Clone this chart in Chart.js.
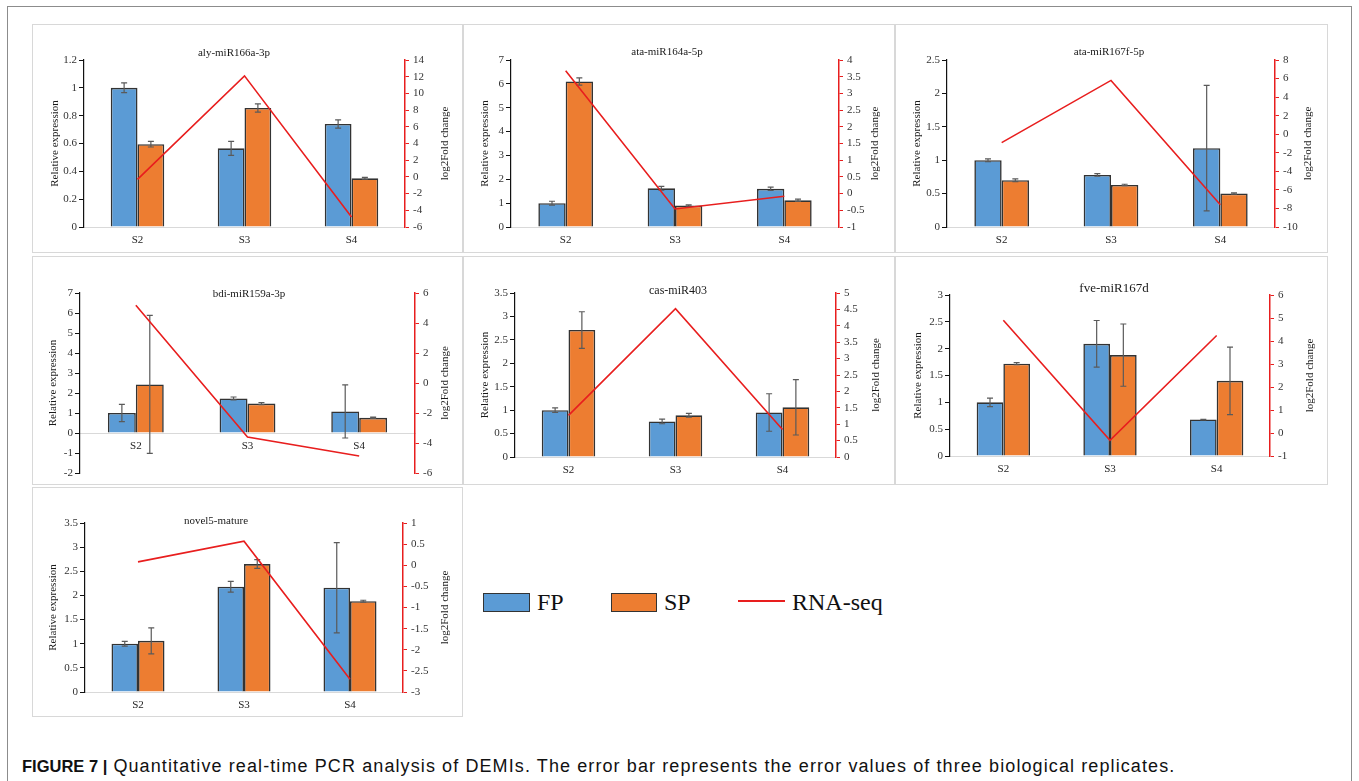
<!DOCTYPE html>
<html>
<head>
<meta charset="utf-8">
<title>Figure 7 - qRT-PCR of DEMIs</title>
<script src="https://cdn.jsdelivr.net/npm/chart.js@4.4.0/dist/chart.umd.min.js"></script>
<style>
  body { margin: 0; background: #fff; width: 1359px; height: 781px; position: relative; overflow: hidden; font-family: "Liberation Serif", serif; }
  #frame { position: absolute; left: 7px; top: 6px; width: 1343px; height: 800px; border: 1px solid #8c8c8c; }
  .panel { position: absolute; border: 1px solid #d8d8d8; box-sizing: border-box; background: #fff; }
  .panel canvas { position: absolute; left: 0; top: 0; }
  .legend { position: absolute; font-family: "Liberation Serif", serif; font-size: 24px; color: #111; }
  .swatch { position: absolute; box-sizing: border-box; border: 1.5px solid #333; }
  #caption { position: absolute; left: 22px; top: 756px; font-family: "Liberation Sans", Arial, sans-serif; font-size: 18px; letter-spacing: 1.1px; color: #111; white-space: nowrap; }
  #caption b { font-weight: bold; font-size: 16.5px; letter-spacing: 0; }
</style>
</head>
<body>
<div id="frame"></div>
<div id="panels"></div>

<div class="swatch" style="left:483px;top:593px;width:47px;height:19px;background:#5b9bd5"></div>
<div class="legend" style="left:537px;top:589px">FP</div>
<div class="swatch" style="left:611px;top:593px;width:46px;height:19px;background:#ed7d31"></div>
<div class="legend" style="left:664px;top:589px">SP</div>
<div style="position:absolute;left:738px;top:600px;width:47px;height:2px;background:#e81e1e"></div>
<div class="legend" style="left:792px;top:589px">RNA-seq</div>

<div id="caption"><b>FIGURE 7 |</b> Quantitative real-time PCR analysis of DEMIs. The error bar represents the error values of three biological replicates.</div>

<script>
// données
const stages = ['S2', 'S3', 'S4'];
const mirnas = ['aly-miR166a-3p', 'ata-miR164a-5p', 'ata-miR167f-5p', 'bdi-miR159a-3p', 'cas-miR403', 'fve-miR167d', 'novel5-mature'];

const fpMeans = [
    [1.00, 0.565, 0.74],
    [1.00, 1.62, 1.60],
    [1.00, 0.78, 1.18],
    [1.00, 1.73, 1.08],
    [1.00, 0.76, 0.95],
    [1.00, 2.09, 0.68],
    [1.00, 2.18, 2.16]
];
const fpErrors = [
    [0.035, 0.05, 0.03],
    [0.08, 0.08, 0.07],
    [0.02, 0.02, 0.94],
    [0.43, 0.07, 1.33],
    [0.05, 0.05, 0.40],
    [0.08, 0.435, 0.005],
    [0.05, 0.11, 0.935]
];
const spMeans = [
    [0.595, 0.855, 0.35],
    [6.10, 0.90, 1.12],
    [0.70, 0.63, 0.50],
    [2.43, 1.47, 0.76],
    [2.71, 0.89, 1.06],
    [1.72, 1.88, 1.40],
    [1.06, 2.65, 1.88]
];
const spErrors = [
    [0.02, 0.03, 0.007],
    [0.15, 0.03, 0.05],
    [0.02, 0.01, 0.01],
    [3.45, 0.05, 0.03],
    [0.39, 0.04, 0.59],
    [0.02, 0.58, 0.63],
    [0.27, 0.09, 0.02]
];
const rnaSeqLog2FC = [
    [-0.3, 12.1, -4.8],
    [3.68, -0.46, -0.08],
    [-0.9, 5.8, -7.6],
    [5.18, -3.6, -4.87],
    [1.27, 4.52, 0.84],
    [4.9, -0.32, 4.24],
    [0.08, 0.57, -2.7]
];
// [min, max, pas] des axes
const leftAxisRange = [[0, 1.2, 0.2], [0, 7, 1], [0, 2.5, 0.5], [-2, 7, 1], [0, 3.5, 0.5], [0, 3, 0.5], [0, 3.5, 0.5]];
const rightAxisRange = [[-6, 14, 2], [-1, 4, 0.5], [-10, 8, 2], [-6, 6, 2], [0, 5, 0.5], [-1, 6, 1], [-3, 1, 0.5]];

// mise en page des panneaux : boîte, zone de tracé, titres
const panelLayout = [
    { box: [32, 24, 431, 229],  area: [52, 36, 373, 203], title: [201, 28, 11], offL: 29, offR: 40 },
    { box: [463, 24, 432, 229], area: [48, 36, 376, 203], title: [203, 27, 11], offL: 26, offR: 36 },
    { box: [895, 24, 433, 229], area: [52, 36, 380, 203], title: [213, 27, 11], offL: 30, offR: 33 },
    { box: [32, 256, 431, 229], area: [48, 37, 383, 217], title: [216, 37, 11], offL: 27, offR: 30 },
    { box: [463, 256, 432, 229], area: [52, 37, 373, 201], title: [214, 34, 12], offL: 30, offR: 40 },
    { box: [895, 256, 433, 229], area: [55, 39, 375, 200], title: [218, 32, 13], offL: 32, offR: 40 },
    { box: [32, 487, 431, 230], area: [53, 36, 371, 205], title: [183, 33, 11], offL: 32, offR: 42 }
];

const BLUE = '#5b9bd5';
const ORANGE = '#ed7d31';
const RED = '#e81e1e';
const FONT = '"Liberation Serif", "Times New Roman", serif';

const fmt = v => String(Number(v.toFixed(2)));

// barres d'erreur + titres dessinés à la main
function makeDecor(i) {
    const L = panelLayout[i];
    const errs = [fpErrors[i], spErrors[i], null];
    return {
        id: 'decor' + i,
        afterDatasetDraw(chart, args) {
            const e = errs[args.index];
            if (!e) return;
            const ctx = chart.ctx;
            const y = chart.scales.y;
            const data = chart.data.datasets[args.index].data;
            ctx.save();
            ctx.strokeStyle = '#5a5a5a';
            ctx.lineWidth = 1.2;
            args.meta.data.forEach((bar, k) => {
                const top = y.getPixelForValue(data[k] + e[k]);
                const bot = y.getPixelForValue(data[k] - e[k]);
                ctx.beginPath();
                ctx.moveTo(bar.x, top); ctx.lineTo(bar.x, bot);
                ctx.moveTo(bar.x - 3, top); ctx.lineTo(bar.x + 3, top);
                ctx.moveTo(bar.x - 3, bot); ctx.lineTo(bar.x + 3, bot);
                ctx.stroke();
            });
            ctx.restore();
        },
        afterDraw(chart) {
            const ctx = chart.ctx;
            const a = chart.chartArea;
            const midY = (a.top + a.bottom) / 2;
            ctx.save();
            ctx.fillStyle = '#1a1a1a';
            ctx.textAlign = 'center';
            ctx.textBaseline = 'middle';
            ctx.font = L.title[2] + 'px ' + FONT;
            ctx.fillText(mirnas[i], L.title[0], L.title[1]);

            ctx.font = '11px ' + FONT;
            ctx.translate(a.left - L.offL, midY);
            ctx.rotate(-Math.PI / 2);
            ctx.fillText('Relative expression', 0, 0);
            ctx.restore();

            ctx.save();
            ctx.fillStyle = '#1a1a1a';
            ctx.textAlign = 'center';
            ctx.textBaseline = 'middle';
            ctx.font = '11px ' + FONT;
            ctx.translate(a.right + L.offR, midY);
            ctx.rotate(-Math.PI / 2);
            ctx.fillText('log2Fold change', 0, 0);
            ctx.restore();
        }
    };
}

function buildPanel(i) {
    const L = panelLayout[i];
    const div = document.createElement('div');
    div.className = 'panel';
    div.style.left = L.box[0] + 'px';
    div.style.top = L.box[1] + 'px';
    div.style.width = L.box[2] + 'px';
    div.style.height = L.box[3] + 'px';
    const cw = L.box[2] - 2, ch = L.box[3] - 2;
    const canvas = document.createElement('canvas');
    canvas.width = cw; canvas.height = ch;
    canvas.style.width = cw + 'px'; canvas.style.height = ch + 'px';
    div.appendChild(canvas);
    document.getElementById('panels').appendChild(div);

    const [lmin, lmax, lstep] = leftAxisRange[i];
    const [rmin, rmax, rstep] = rightAxisRange[i];
    const zeroAxis = lmin < 0;
    const areaL = L.area[0] - 1, areaT = L.area[1] - 1, areaR = L.area[2] - 1, areaB = L.area[3] - 1;

    new Chart(canvas.getContext('2d'), {
        type: 'bar',
        data: {
            labels: stages,
            datasets: [
                { label: 'FP', data: fpMeans[i], backgroundColor: BLUE, borderColor: '#333', borderWidth: 1.6, order: 1 },
                { label: 'SP', data: spMeans[i], backgroundColor: ORANGE, borderColor: '#333', borderWidth: 1.6, order: 1 },
                { label: 'RNA-seq', type: 'line', data: rnaSeqLog2FC[i], yAxisID: 'y1', borderColor: RED, borderWidth: 1.6,
                  pointRadius: 0, tension: 0, fill: false, order: 0 }
            ]
        },
        options: {
            responsive: false,
            animation: false,
            events: [],
            categoryPercentage: 0.5,
            barPercentage: 1.0,
            layout: { padding: { top: areaT, left: 0, right: 0, bottom: zeroAxis ? ch - areaB : 0 } },
            plugins: { legend: { display: false }, tooltip: { enabled: false }, title: { display: false } },
            scales: {
                x: {
                    position: zeroAxis ? { y: 0 } : 'bottom',
                    grid: { display: false, tickLength: 0 },
                    border: { display: true, color: '#d9d9d9', width: 1 },
                    ticks: { color: '#222', font: { family: FONT, size: 11 }, padding: 7 },
                    afterFit: zeroAxis ? undefined : s => { s.height = ch - areaB; }
                },
                y: {
                    position: 'left',
                    min: lmin, max: lmax,
                    grid: { drawOnChartArea: false, drawTicks: true, tickLength: 5, color: '#111' },
                    border: { display: true, color: '#111', width: 1.2 },
                    ticks: { stepSize: lstep, color: '#333', padding: 2, font: { family: FONT, size: 11 }, callback: fmt },
                    afterFit: s => { s.width = areaL; }
                },
                y1: {
                    position: 'right',
                    min: rmin, max: rmax,
                    grid: { drawOnChartArea: false, drawTicks: true, tickLength: 4, color: RED },
                    border: { display: true, color: RED, width: 1.5 },
                    ticks: { stepSize: rstep, color: '#333', padding: 4, font: { family: FONT, size: 11 }, callback: fmt },
                    afterFit: s => { s.width = cw - areaR; }
                }
            }
        },
        plugins: [makeDecor(i)]
    });
}

mirnas.forEach((m, i) => buildPanel(i));
</script>
</body>
</html>
